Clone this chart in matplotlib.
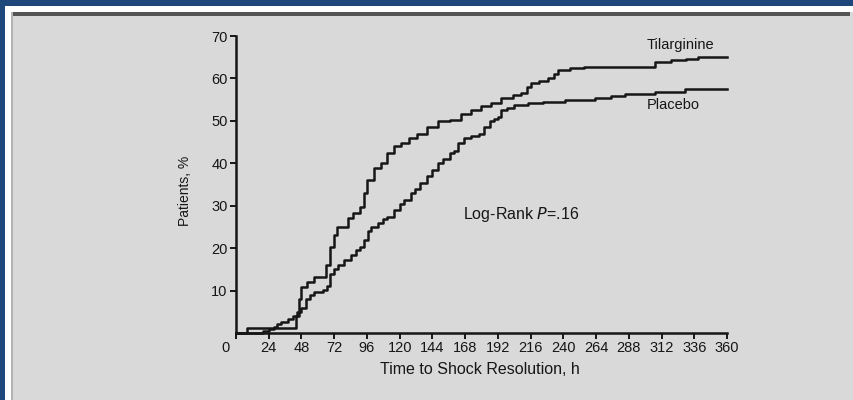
import matplotlib.pyplot as plt
from matplotlib.patches import Rectangle
import matplotlib.transforms as mtransforms

plt.rcParams['font.family'] = ['Liberation Sans', 'DejaVu Sans']

# Tilarginine curve (time in h, cumulative % of patients)
tilarginine_h = [0, 8, 43, 44, 46, 48, 52, 57, 64, 66, 69, 72, 74, 82, 86, 91,
                 94, 96, 101, 106, 111, 116, 121, 127, 133, 140, 148, 157, 165,
                 172, 180, 187, 194, 203, 209, 213, 216, 222, 229, 233, 236,
                 245, 255, 300, 307, 319, 330, 339, 360]
tilarginine_pct = [0, 1.2, 1.2, 4, 8, 10.9, 12, 13.2, 13.2, 16, 20.3, 23, 25,
                   27, 28.3, 29.7, 33, 36, 39, 40, 42.4, 44, 44.8, 46, 47,
                   48.5, 50, 50.2, 51.5, 52.6, 53.5, 54.3, 55.4, 56, 56.6, 58,
                   58.9, 59.5, 60, 61, 62, 62.5, 62.7, 62.7, 63.9, 64.3, 64.6,
                   65, 65]

# Placebo curve
placebo_h = [0, 20, 24, 28, 30, 33, 38, 42, 45, 48, 51, 54, 57, 64, 67, 69, 72,
             75, 79, 84, 88, 91, 94, 97, 99, 104, 108, 111, 116, 120, 123, 128,
             131, 135, 140, 144, 148, 152, 157, 160, 163, 167, 172, 178, 182,
             186, 189, 192, 194, 199, 204, 214, 225, 241, 263, 275, 285, 307,
             329, 360]
placebo_pct = [0, 0.5, 1, 1.5, 2.2, 2.6, 3.2, 4, 5, 6, 8, 9, 9.7, 10.1, 11, 14,
               15, 16, 17.2, 18.5, 19.5, 20.3, 22, 24, 25, 26, 26.8, 27.4, 29,
               30.5, 31.3, 33, 34, 35.4, 37, 38.4, 40, 41, 42.4, 43, 44.7, 46,
               46.5, 47, 48.5, 50, 50.5, 51, 52.6, 53, 53.7, 54.2, 54.5, 54.9,
               55.4, 55.9, 56.3, 56.8, 57.5, 57.5]

x_ticks = [0, 24, 48, 72, 96, 120, 144, 168, 192, 216, 240, 264, 288, 312, 336, 360]
y_ticks = [10, 20, 30, 40, 50, 60, 70]

INK = '#161616'
W, H = 854, 400
fig = plt.figure(figsize=(W / 100, H / 100), dpi=100)
fig.patch.set_facecolor('#1e487c')

# white frame, gray panel, dark top edge
fig.add_artist(Rectangle((5 / W, 0), 1, 1 - 6 / H, transform=fig.transFigure,
                         facecolor='white', edgecolor='none', zorder=-3))
fig.add_artist(Rectangle((11 / W, 0), 1, 1 - 12 / H, transform=fig.transFigure,
                         facecolor='#d9d9d9', edgecolor='none', zorder=-2))
fig.add_artist(Rectangle((11 / W, 1 - 16 / H), (850 - 11) / W, 4 / H,
                         transform=fig.transFigure, facecolor='#555555',
                         edgecolor='none', zorder=-1))
fig.add_artist(Rectangle((11 / W, 0), 2 / W, 1 - 12 / H, transform=fig.transFigure,
                         facecolor='#b4b4b4', edgecolor='none', zorder=-1))

ax = fig.add_axes([236 / W, 67 / H, (727 - 236) / W, (333 - 36) / H])
ax.set_facecolor('none')

ax.plot(tilarginine_h, tilarginine_pct, drawstyle='steps-post', color=INK,
        lw=1.8, clip_on=False)
ax.plot(placebo_h, placebo_pct, drawstyle='steps-post', color=INK,
        lw=1.8, clip_on=False)

ax.set_xlim(0, 360)
ax.set_ylim(0, 70)
for side in ['top', 'right']:
    ax.spines[side].set_visible(False)
for side in ['left', 'bottom']:
    ax.spines[side].set_linewidth(1.8)
    ax.spines[side].set_color(INK)

ax.set_xticks(x_ticks)
ax.set_yticks(y_ticks)
ax.tick_params(axis='both', direction='out', length=4, width=1.4,
               labelsize=10.5, colors=INK, pad=2)

# "0" label sits left of the y axis
lab0 = ax.get_xticklabels()[0]
lab0.set_transform(lab0.get_transform() +
                   mtransforms.ScaledTranslation(-10 / 100, 0, fig.dpi_scale_trans))

fig.text(185 / W, 1 - 191 / H, 'Patients, %', rotation=90, ha='center',
         va='center', fontsize=10, color=INK)
fig.text(480 / W, 1 - 370 / H, 'Time to Shock Resolution, h', ha='center',
         va='center', fontsize=11.5, color=INK)
fig.text(680 / W, 1 - 45 / H, 'Tilarginine', ha='center', va='center',
         fontsize=10.5, color=INK)
fig.text(673 / W, 1 - 105 / H, 'Placebo', ha='center', va='center',
         fontsize=10.5, color=INK)
fig.text(463 / W, 1 - 215 / H, 'Log-Rank $\\it{P}$=.16', ha='left', va='center',
         fontsize=11.5, color=INK)

fig.savefig('out.png', dpi=100, facecolor=fig.get_facecolor())
